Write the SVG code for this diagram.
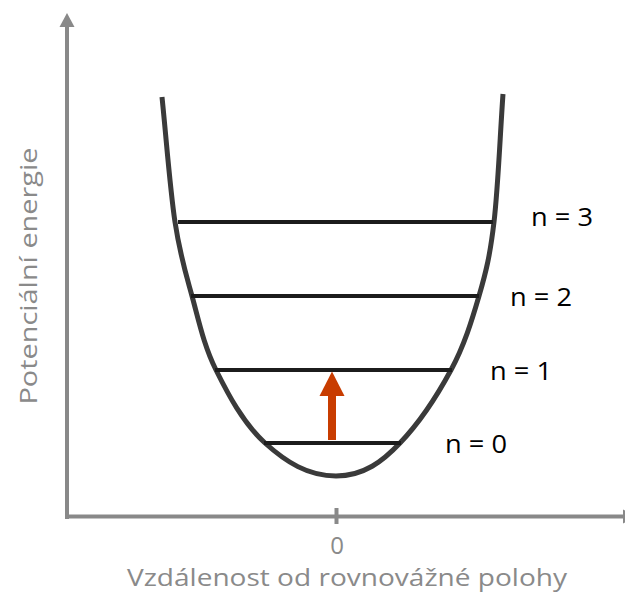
<svg xmlns="http://www.w3.org/2000/svg" width="625" height="595" viewBox="0 0 625 595">
<style>
.axis{stroke:#898989;stroke-width:4;fill:none}
.ahead{fill:#898989}
.curve{stroke:#3a3a3a;stroke-width:5;fill:none}
.level{stroke:#1c1c1c;stroke-width:4}
.lbl{font-family:"Open Sans","Liberation Sans",sans-serif;font-size:25px;fill:#000}
.axlbl{font-family:"Open Sans","Liberation Sans",sans-serif;font-size:24px;fill:#8a8a8a}
</style>
<rect width="625" height="595" fill="#fff"/>
<g id="connectors">
<g id="y-axis">
<line class="axis" x1="67" y1="519" x2="67" y2="24"/>
<polygon class="ahead" points="67,13 59.5,27 74.5,27"/>
</g>
<g id="x-axis">
<line class="axis" x1="65" y1="516.5" x2="624" y2="516.5"/>
<polygon class="ahead" points="623,509.5 637,516.5 623,523.5"/>
<line class="axis" x1="336.5" y1="508" x2="336.5" y2="524"/>
</g>
</g>
<g id="potential">
<path class="curve" d="M162,97 C166.3,138.7 170,188.8 175,222 C180,255.2 185.2,271.3 192,296 C198.8,320.7 203.8,345.5 216,370 C228.2,394.5 243,423 265,443 C286,462 308,476 336,476 C364,476 383,461 400,443 C419.2,423 437.8,394.5 451,370 C464.2,345.5 471.8,320.7 479,296 C486.2,271.3 490,255.7 494,222 C498,188.3 500,136.7 503,94"/>
</g>
<g id="level3"><line class="level" x1="178" y1="222" x2="493" y2="222"/><text class="lbl" x="531" y="226" textLength="62" lengthAdjust="spacingAndGlyphs">n = 3</text></g>
<g id="level2"><line class="level" x1="191" y1="296" x2="479" y2="296"/><text class="lbl" x="510" y="306" textLength="62" lengthAdjust="spacingAndGlyphs">n = 2</text></g>
<g id="level1"><line class="level" x1="215" y1="370" x2="452" y2="370"/><text class="lbl" x="490" y="380" textLength="62" lengthAdjust="spacingAndGlyphs">n = 1</text></g>
<g id="level0"><line class="level" x1="264" y1="443" x2="401" y2="443"/><text class="lbl" x="445" y="453" textLength="62" lengthAdjust="spacingAndGlyphs">n = 0</text></g>
<g id="excitation">
<rect x="328" y="394" width="8" height="46" fill="#c83c00"/>
<polygon points="332,371.5 319.5,396 344.5,396" fill="#c83c00"/>
</g>
<g id="labels">
<text class="axlbl" x="337" y="554" text-anchor="middle">0</text>
<text class="axlbl" x="347" y="586" text-anchor="middle" textLength="440" lengthAdjust="spacingAndGlyphs">Vzdálenost od rovnovážné polohy</text>
<text class="axlbl" transform="translate(37,276) rotate(-90)" text-anchor="middle" textLength="257" lengthAdjust="spacingAndGlyphs">Potenciální energie</text>
</g>
</svg>
